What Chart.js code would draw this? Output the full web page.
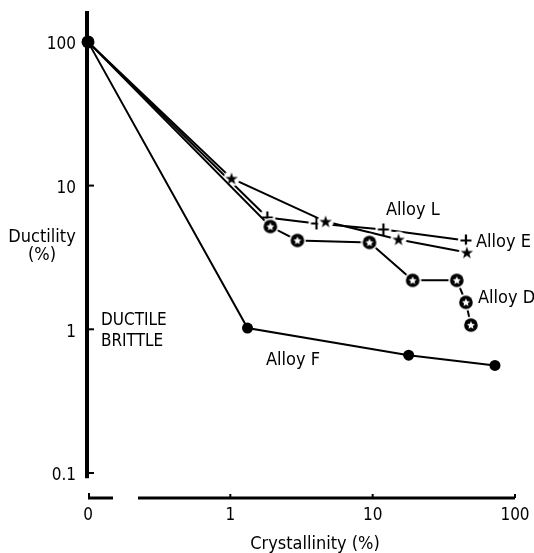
<!DOCTYPE html>
<html>
<head>
<meta charset="utf-8">
<script src="https://cdn.jsdelivr.net/npm/chart.js@4/dist/chart.umd.min.js"></script>
<style>
  html, body { margin: 0; padding: 0; background: #fff; }
  #wrap { width: 534px; height: 553px; }
</style>
</head>
<body>
<div id="wrap"><canvas id="chart" width="534" height="553"></canvas></div>
<script>
// crystallinity (%) and ductility (%); 0 sits on the broken part of the log axis
const crystD = [0, 1.91, 2.96, 9.5, 19.1, 39, 45.2, 49];
const ductD  = [100, 5.19, 4.15, 4.02, 2.19, 2.19, 1.54, 1.07];
const crystL = [0, 1.02, 4.67, 15.2, 45.9];
const ductL  = [100, 11.2, 5.62, 4.22, 3.42];
const crystE = [0, 1.82, 4.03, 11.9, 45.2];
const ductE  = [100, 6.0, 5.45, 4.95, 4.15];
const crystF = [0, 1.32, 17.9, 72.3];
const ductF  = [100, 1.02, 0.66, 0.56];

const xTicks = [0, 1, 10, 100];
const xTickLabels = ['0', '1', '10', '100'];
const yTicks = [0.1, 1, 10, 100];
const yTickLabels = ['0.1', '1', '10', '100'];

const ZERO_AT = 0.1; // where "0" is drawn on the log axis
const FONT = '"DejaVu Sans Condensed", "DejaVu Sans", sans-serif';

function toPoints(xs, ys) {
    return xs.map((x, i) => ({ x: x === 0 ? ZERO_AT : x, y: ys[i] }));
}

function makeMarker(size, drawFn) {
    const c = document.createElement('canvas');
    c.width = size; c.height = size;
    const g = c.getContext('2d');
    drawFn(g, size / 2);
    return c;
}

function starPath(g, cx, cy, ro, ri) {
    g.beginPath();
    for (let i = 0; i < 10; i++) {
        const r = i % 2 === 0 ? ro : ri;
        const a = -Math.PI / 2 + i * Math.PI / 5;
        g.lineTo(cx + r * Math.cos(a), cy + r * Math.sin(a));
    }
    g.closePath();
}

const ringStar = makeMarker(18, (g, c) => {
    g.fillStyle = '#fff';
    g.beginPath(); g.arc(c, c, 8.5, 0, Math.PI * 2); g.fill();
    g.fillStyle = '#000';
    g.beginPath(); g.arc(c, c, 6.8, 0, Math.PI * 2); g.fill();
    g.fillStyle = '#fff';
    starPath(g, c, c + 0.3, 4.2, 2); g.fill();
});
const blackStar = makeMarker(18, (g, c) => {
    g.fillStyle = '#fff';
    g.beginPath(); g.arc(c, c, 8, 0, Math.PI * 2); g.fill();
    g.fillStyle = '#000';
    starPath(g, c, c + 0.5, 6.5, 2.6); g.fill();
});
const plusMark = makeMarker(18, (g, c) => {
    g.fillStyle = '#fff';
    g.beginPath(); g.arc(c, c, 8, 0, Math.PI * 2); g.fill();
    g.strokeStyle = '#000'; g.lineWidth = 2.2;
    g.beginPath();
    g.moveTo(c - 5.5, c); g.lineTo(c + 5.5, c);
    g.moveTo(c, c - 6); g.lineTo(c, c + 6);
    g.stroke();
});

const labelPlugin = {
    id: 'paperAxes',
    afterDraw(chart) {
        const ctx = chart.ctx;
        const xs = chart.scales.x, ys = chart.scales.y;
        const area = chart.chartArea;
        const x0 = xs.getPixelForValue(ZERO_AT);
        const yAxisX = x0 - 1;
        const xAxisY = area.bottom;
        ctx.save();
        ctx.strokeStyle = '#000';
        ctx.fillStyle = '#000';
        ctx.lineCap = 'butt';

        // y axis
        ctx.lineWidth = 4;
        ctx.beginPath();
        ctx.moveTo(yAxisX, area.top);
        ctx.lineTo(yAxisX, ys.getPixelForValue(0.092));
        ctx.stroke();
        ctx.lineWidth = 2;
        yTicks.forEach(v => {
            const py = ys.getPixelForValue(v);
            ctx.beginPath(); ctx.moveTo(yAxisX, py); ctx.lineTo(yAxisX + 7, py); ctx.stroke();
        });

        // broken x axis
        ctx.lineWidth = 3;
        ctx.beginPath();
        ctx.moveTo(x0, xAxisY); ctx.lineTo(x0 + 25, xAxisY);
        ctx.moveTo(x0 + 50, xAxisY); ctx.lineTo(area.right, xAxisY);
        ctx.stroke();
        ctx.lineWidth = 2;
        ctx.beginPath(); ctx.moveTo(x0 + 1, xAxisY); ctx.lineTo(x0 + 1, xAxisY - 5); ctx.stroke();
        xTicks.slice(1).forEach(v => {
            const px = xs.getPixelForValue(v);
            ctx.beginPath(); ctx.moveTo(px, xAxisY); ctx.lineTo(px, xAxisY - 4); ctx.stroke();
        });

        // tick labels
        ctx.font = '17px ' + FONT;
        ctx.textBaseline = 'middle';
        ctx.textAlign = 'right';
        yTicks.forEach((v, i) => {
            ctx.fillText(yTickLabels[i], yAxisX - 11, ys.getPixelForValue(v) + 3);
        });
        ctx.textAlign = 'center';
        xTicks.forEach((v, i) => {
            const px = xs.getPixelForValue(v === 0 ? ZERO_AT : v);
            ctx.fillText(xTickLabels[i], px, xAxisY + 18);
        });

        // axis titles
        ctx.font = '18px ' + FONT;
        ctx.fillText('Ductility', 42, 237);
        ctx.fillText('(%)', 42, 255);
        ctx.fillText('Crystallinity (%)', 315, 544);

        // region and series labels
        ctx.textAlign = 'left';
        ctx.font = '17px ' + FONT;
        const one = ys.getPixelForValue(1);
        ctx.fillText('DUCTILE', 101, one - 9);
        ctx.fillText('BRITTLE', 101, one + 12);
        ctx.font = '18px ' + FONT;
        ctx.fillText('Alloy L', 386, 210);
        ctx.fillText('Alloy E', 476, 242);
        ctx.fillText('Alloy D', 478, 298);
        ctx.fillText('Alloy F', 266, 360);
        ctx.restore();
    }
};

function lineSet(label, xs, ys, marker, radius) {
    return {
        label: label,
        data: toPoints(xs, ys),
        borderColor: '#000',
        backgroundColor: '#000',
        borderWidth: 2,
        pointStyle: marker,
        pointRadius: xs.map((x, i) => i === 0 ? 0 : radius),
        pointBorderWidth: 0,
        tension: 0,
        clip: false
    };
}

const datasets = [
    lineSet('Alloy D', crystD, ductD, ringStar, 9),
    lineSet('Alloy L', crystL, ductL, blackStar, 9),
    lineSet('Alloy E', crystE, ductE, plusMark, 9),
    {
        label: 'Alloy F',
        data: toPoints(crystF, ductF),
        borderColor: '#000',
        backgroundColor: '#000',
        borderWidth: 2,
        pointStyle: 'circle',
        pointRadius: crystF.map((x, i) => i === 0 ? 6.5 : 5.5),
        pointBorderWidth: 0,
        tension: 0,
        clip: false
    }
];

new Chart(document.getElementById('chart'), {
    type: 'line',
    data: { datasets: datasets },
    options: {
        responsive: false,
        animation: false,
        layout: { padding: { left: 88, right: 19, top: 11, bottom: 55 } },
        plugins: { legend: { display: false }, tooltip: { enabled: false } },
        scales: {
            x: { type: 'logarithmic', min: 0.1, max: 100, display: false },
            y: { type: 'logarithmic', min: 0.067, max: 164, display: false }
        }
    },
    plugins: [labelPlugin]
});
</script>
</body>
</html>
